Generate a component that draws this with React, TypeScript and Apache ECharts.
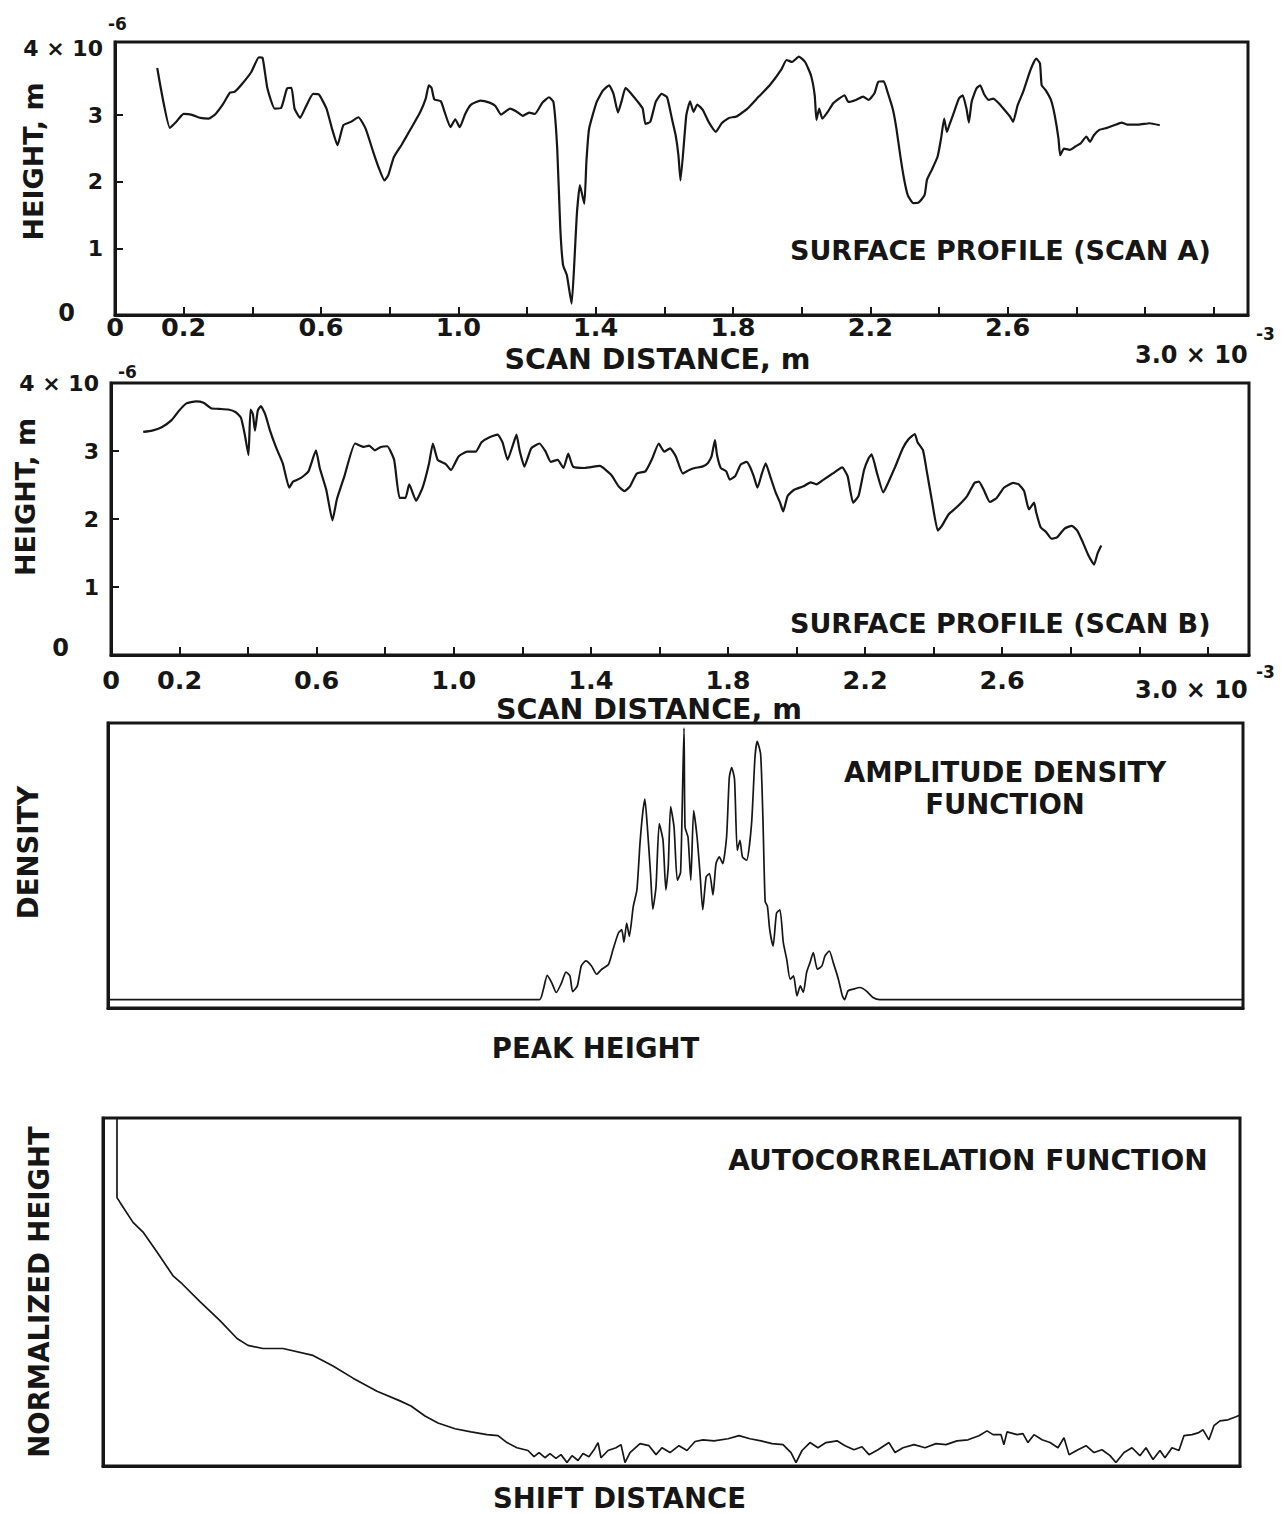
import React, { useEffect, useRef } from 'react';
import * as echarts from 'echarts';

// ---------- Scan A surface profile (x in 10^-3 m, height in 10^-6 m) ----------
const scanAX = [
  0.123, 0.160, 0.178, 0.200, 0.222, 0.249, 0.273, 0.293, 0.315, 0.335, 0.348, 0.370, 0.397, 0.419, 0.430,
  0.444, 0.465, 0.484, 0.501, 0.514, 0.523, 0.539, 0.555, 0.577, 0.594, 0.616, 0.632, 0.648, 0.665, 0.687,
  0.709, 0.730, 0.752, 0.769, 0.785, 0.796, 0.812, 0.834, 0.862, 0.889, 0.905, 0.914, 0.922, 0.930, 0.949,
  0.960, 0.977, 0.991, 1.004, 1.020, 1.037, 1.064, 1.091, 1.108, 1.124, 1.151, 1.168, 1.188, 1.206, 1.223,
  1.245, 1.264, 1.277, 1.288, 1.297, 1.305, 1.316, 1.330, 1.338, 1.345, 1.354, 1.367, 1.373, 1.381, 1.403,
  1.421, 1.439, 1.452, 1.465, 1.476, 1.487, 1.504, 1.523, 1.537, 1.545, 1.559, 1.575, 1.592, 1.608, 1.622,
  1.633, 1.641, 1.647, 1.664, 1.675, 1.685, 1.696, 1.712, 1.729, 1.750, 1.767, 1.788, 1.810, 1.842, 1.875,
  1.907, 1.940, 1.956, 1.972, 1.992, 2.010, 2.027, 2.038, 2.043, 2.051, 2.060, 2.076, 2.092, 2.109, 2.125,
  2.136, 2.158, 2.179, 2.195, 2.212, 2.223, 2.239, 2.250, 2.266, 2.276, 2.287, 2.298, 2.309, 2.325, 2.341,
  2.358, 2.365, 2.379, 2.396, 2.406, 2.415, 2.423, 2.430, 2.444, 2.458, 2.469, 2.480, 2.487, 2.495, 2.509,
  2.520, 2.531, 2.545, 2.558, 2.574, 2.591, 2.607, 2.616, 2.629, 2.645, 2.661, 2.672, 2.683, 2.694, 2.699,
  2.710, 2.726, 2.737, 2.748, 2.753, 2.764, 2.781, 2.797, 2.813, 2.829, 2.840, 2.851, 2.867, 2.889, 2.910,
  2.932, 2.948, 2.981, 3.013, 3.043,
];
const scanAHeight = [
  3.71, 2.81, 2.90, 3.02, 3.01, 2.96, 2.95, 3.02, 3.17, 3.34, 3.35, 3.47, 3.65, 3.87, 3.86,
  3.40, 3.10, 3.11, 3.40, 3.41, 3.10, 2.96, 3.12, 3.32, 3.31, 3.10, 2.80, 2.55, 2.85, 2.90,
  2.97, 2.80, 2.45, 2.20, 2.02, 2.10, 2.37, 2.55, 2.80, 3.05, 3.25, 3.45, 3.41, 3.24, 3.21,
  3.05, 2.82, 2.94, 2.82, 3.02, 3.16, 3.22, 3.19, 3.14, 3.01, 3.10, 3.06, 2.99, 3.04, 3.02,
  3.19, 3.27, 3.20, 2.50, 1.30, 0.75, 0.60, 0.17, 0.80, 1.50, 1.95, 1.67, 2.30, 2.80, 3.20,
  3.37, 3.45, 3.32, 3.04, 3.22, 3.41, 3.32, 3.20, 3.10, 2.87, 2.90, 3.20, 3.32, 3.27, 2.95,
  2.70, 2.40, 2.02, 3.00, 3.21, 3.05, 3.16, 3.08, 2.90, 2.75, 2.88, 2.96, 2.98, 3.10, 3.28,
  3.45, 3.68, 3.83, 3.80, 3.88, 3.80, 3.60, 3.30, 2.93, 3.10, 2.95, 3.05, 3.18, 3.25, 3.30,
  3.20, 3.23, 3.28, 3.23, 3.33, 3.50, 3.51, 3.35, 3.08, 2.80, 2.40, 2.05, 1.80, 1.68, 1.69,
  1.80, 2.03, 2.18, 2.38, 2.65, 2.95, 2.75, 2.85, 3.05, 3.25, 3.30, 3.10, 2.89, 3.20, 3.40,
  3.45, 3.32, 3.23, 3.25, 3.18, 3.08, 2.98, 2.90, 3.15, 3.35, 3.60, 3.75, 3.85, 3.78, 3.45,
  3.38, 3.23, 3.00, 2.65, 2.40, 2.50, 2.48, 2.53, 2.58, 2.68, 2.60, 2.70, 2.78, 2.81, 2.85,
  2.89, 2.86, 2.86, 2.88, 2.85,
];

// ---------- Scan B surface profile ----------
const scanBX = [
  0.094, 0.120, 0.148, 0.176, 0.198, 0.220, 0.248, 0.270, 0.292, 0.314, 0.342, 0.364, 0.379, 0.390, 0.401,
  0.407, 0.414, 0.420, 0.428, 0.437, 0.450, 0.464, 0.481, 0.501, 0.520, 0.531, 0.553, 0.576, 0.598, 0.609,
  0.628, 0.646, 0.659, 0.681, 0.712, 0.737, 0.753, 0.770, 0.787, 0.806, 0.826, 0.842, 0.859, 0.870, 0.890,
  0.909, 0.928, 0.939, 0.953, 0.976, 0.992, 1.014, 1.039, 1.064, 1.081, 1.103, 1.128, 1.142, 1.157, 1.172,
  1.183, 1.192, 1.206, 1.226, 1.250, 1.268, 1.283, 1.303, 1.320, 1.334, 1.348, 1.381, 1.426, 1.459, 1.481,
  1.498, 1.514, 1.534, 1.559, 1.579, 1.598, 1.614, 1.631, 1.648, 1.668, 1.687, 1.703, 1.725, 1.741, 1.752,
  1.762, 1.768, 1.779, 1.795, 1.805, 1.821, 1.837, 1.854, 1.864, 1.875, 1.886, 1.899, 1.910, 1.923, 1.939,
  1.952, 1.961, 1.974, 1.993, 2.020, 2.041, 2.058, 2.079, 2.106, 2.133, 2.149, 2.165, 2.181, 2.197, 2.210,
  2.219, 2.235, 2.253, 2.267, 2.288, 2.310, 2.326, 2.345, 2.353, 2.369, 2.380, 2.396, 2.412, 2.424, 2.444,
  2.471, 2.498, 2.519, 2.532, 2.546, 2.564, 2.584, 2.605, 2.632, 2.648, 2.664, 2.678, 2.693, 2.699, 2.712,
  2.728, 2.744, 2.760, 2.782, 2.803, 2.819, 2.835, 2.851, 2.868, 2.878, 2.889,
];
const scanBHeight = [
  3.28, 3.30, 3.35, 3.45, 3.59, 3.70, 3.73, 3.71, 3.63, 3.62, 3.61, 3.57, 3.49, 3.25, 2.94,
  3.61, 3.54, 3.30, 3.59, 3.66, 3.54, 3.30, 3.06, 2.82, 2.46, 2.55, 2.60, 2.70, 3.01, 2.75,
  2.43, 1.98, 2.29, 2.63, 3.11, 3.06, 3.08, 3.01, 3.06, 3.07, 2.87, 2.31, 2.31, 2.51, 2.27,
  2.46, 2.82, 3.11, 2.87, 2.81, 2.72, 2.92, 2.99, 2.99, 3.13, 3.20, 3.24, 3.13, 2.87, 3.08,
  3.24, 3.01, 2.77, 3.04, 3.11, 2.99, 2.84, 2.87, 2.75, 2.96, 2.77, 2.75, 2.78, 2.65, 2.48,
  2.41, 2.48, 2.67, 2.70, 2.89, 3.11, 2.99, 3.04, 2.92, 2.67, 2.72, 2.75, 2.77, 2.82, 2.92,
  3.16, 2.94, 2.75, 2.70, 2.58, 2.63, 2.80, 2.84, 2.77, 2.63, 2.46, 2.67, 2.82, 2.63, 2.39,
  2.24, 2.11, 2.34, 2.43, 2.48, 2.54, 2.51, 2.58, 2.67, 2.76, 2.63, 2.24, 2.34, 2.72, 2.89,
  2.95, 2.67, 2.39, 2.53, 2.77, 3.04, 3.17, 3.25, 3.13, 3.01, 2.70, 2.24, 1.83, 1.90, 2.07,
  2.19, 2.34, 2.53, 2.55, 2.43, 2.25, 2.31, 2.46, 2.53, 2.51, 2.41, 2.14, 2.24, 2.10, 1.88,
  1.81, 1.71, 1.73, 1.86, 1.90, 1.83, 1.66, 1.47, 1.33, 1.49, 1.61,
];

// ---------- Amplitude density function (normalised peak height, density) ----------
const peakHeight = [
  0, 38.0, 38.36, 38.7, 39.09, 39.5, 39.97, 40.35, 40.7, 40.94, 41.35, 41.7, 42.1, 42.6, 43.05, 43.5,
  44.1, 44.5, 44.97, 45.26, 45.46, 45.7, 45.93, 46.28, 46.6, 46.87, 47.1, 47.3, 47.5, 47.8, 48.0, 48.28,
  48.57, 48.9, 49.15, 49.36, 49.57, 49.87, 50.16, 50.45, 50.75, 50.84, 51.1, 51.35, 51.6, 51.9, 52.16,
  52.4, 52.7, 53.0, 53.3, 53.57, 53.86, 54.16, 54.5, 54.74, 54.95, 55.2, 55.44, 55.68, 55.9, 56.27, 56.7,
  57.0, 57.2, 57.5, 57.7, 57.9, 58.1, 58.3, 58.6, 58.9, 59.2, 59.5, 59.8, 60.1, 60.4, 60.7, 61.0, 61.26,
  61.55, 61.85, 62.14, 62.5, 62.9, 63.17, 63.55, 63.9, 64.35, 64.7, 64.9, 65.2, 65.66, 66.25, 66.8, 67.4,
  68.0, 100,
];
const density = [
  0, 0, 3.8, 8.8, 6.2, 2.6, 6.2, 10.0, 8.6, 2.9, 5.0, 12.2, 14.0, 12.2, 9.2, 11.0,
  12.8, 18.2, 24.1, 25.3, 20.8, 27.7, 22.9, 33.7, 39.7, 56.4, 67.1, 72.5, 63.6, 45.6, 32.7, 40.7,
  63.6, 57.6, 39.7, 48.0, 69.8, 62.4, 43.2, 46.1, 98.2, 62.4, 58.8, 43.2, 68.3, 58.8, 45.6,
  32.5, 44.4, 45.6, 37.9, 49.2, 51.6, 49.2, 58.8, 80.3, 83.9, 79.7, 54.0, 57.6, 51.6, 50.4, 63.6,
  87.5, 93.4, 88.7, 65.9, 35.5, 33.7, 25.3, 19.4, 31.3, 32.5, 20.6, 14.6, 7.4, 8.6, 1.4, 5.0, 2.6,
  9.8, 13.4, 17.0, 11.0, 12.2, 15.8, 17.6, 13.4, 7.4, 1.4, 0, 3.2, 3.8, 4.4, 3.2, 0.8,
  0, 0,
];

// ---------- Autocorrelation function (normalised shift, normalised height) ----------
const shiftDistance = [
  1.23, 1.23, 1.50, 2.64, 3.52, 4.75, 6.16, 6.95, 8.53, 10.29, 11.79, 12.75, 14.07, 15.83, 18.47, 20.23,
  21.99, 24.10, 26.12, 27.09, 28.32, 29.46, 30.96, 32.37, 33.77, 34.74, 35.53, 36.41, 37.38, 37.91, 38.35,
  38.87, 39.31, 39.84, 40.28, 40.81, 41.25, 41.78, 42.22, 42.74, 43.18, 43.54, 43.80, 44.42, 45.12, 45.56,
  45.91, 46.35, 47.23, 48.02, 48.64, 49.16, 49.87, 50.66, 51.36, 52.07, 52.77, 53.74, 54.97, 55.94, 56.90,
  57.87, 58.84, 59.81, 60.51, 60.95, 61.48, 62.18, 62.88, 63.59, 64.56, 65.26, 66.05, 66.75, 67.37, 68.16,
  69.13, 69.66, 70.36, 71.33, 72.30, 73.26, 74.14, 75.11, 76.08, 77.04, 77.75, 78.28, 78.98, 79.24, 79.51,
  80.39, 80.91, 81.35, 81.88, 82.59, 83.29, 83.99, 84.52, 84.96, 85.75, 86.46, 87.16, 87.86, 88.57, 89.09,
  89.80, 90.50, 91.20, 91.73, 92.35, 92.96, 93.40, 94.02, 94.63, 95.07, 95.78, 96.31, 96.75, 97.27, 97.71,
  98.24, 98.94, 99.65, 100,
];
const autocorrelation = [
  100, 76.9, 75.5, 69.7, 66.9, 61.1, 54.2, 51.9, 46.7, 41.2, 36.0, 34.0, 33.1, 33.1, 31.1, 28.0,
  24.5, 20.7, 17.9, 16.4, 13.5, 11.5, 9.8, 8.9, 8.1, 7.8, 5.8, 4.3, 3.5, 1.7, 2.9,
  1.4, 2.6, 1.2, 2.3, 0, 2.0, 0.6, 2.6, 1.7, 3.7, 5.8, 1.4, 3.5, 4.3, 5.2,
  0, 2.9, 5.5, 4.9, 2.3, 4.3, 2.9, 4.9, 3.5, 6.1, 6.6, 6.3, 6.9, 7.8, 6.9,
  6.3, 5.5, 5.2, 2.9, 0, 3.5, 5.8, 4.3, 5.8, 6.3, 4.9, 3.7, 4.6, 2.3, 3.7,
  5.8, 2.9, 4.3, 5.2, 4.3, 5.5, 5.2, 6.3, 6.6, 7.8, 9.2, 8.1, 8.1, 5.2, 8.9,
  8.1, 8.4, 5.8, 8.1, 6.6, 5.8, 4.3, 7.2, 2.3, 3.7, 4.9, 2.9, 3.7, 2.0, 0,
  2.9, 4.3, 2.0, 4.3, 0.9, 3.5, 1.4, 4.3, 3.5, 7.8, 8.1, 8.6, 9.5, 6.6, 10.7,
  12.1, 12.4, 13.3, 13.8,
];

// ---------- Axis tick / label values ----------
const scanTickValues = [0.2, 0.4, 0.6, 0.8, 1.0, 1.2, 1.4, 1.6, 1.8, 2.0, 2.2, 2.4, 2.6, 2.8, 3.0, 3.2];
const scanLabelValues = [0, 0.2, 0.6, 1.0, 1.4, 1.8, 2.2, 2.6];
const heightTickValues = [1, 2, 3];
const heightLabelValues = [0, 1, 2, 3, 4];

const FONT = '"DejaVu Sans", "Liberation Sans", Arial, sans-serif';
const INK = '#161616';

const zip = (xs: number[], ys: number[]) => xs.map((x, i) => [x, ys[i]]);

const boldText = (size: number) => ({
  fontSize: size,
  fontFamily: FONT,
  fontWeight: 'bold' as const,
  color: INK,
});

function scanXAxis(gridIndex: number, max: number, nameGap: number, padRight: number, labelMargin: number) {
  return {
    gridIndex,
    type: 'value',
    min: 0,
    max,
    axisLine: { show: true, onZero: false, lineStyle: { color: INK, width: 3 } },
    axisTick: { show: true, inside: true, length: 8, customValues: scanTickValues, lineStyle: { color: INK, width: 2 } },
    axisLabel: {
      show: true,
      customValues: scanLabelValues,
      formatter: (v: number) => (v === 0 ? '0' : v.toFixed(1)),
      margin: labelMargin,
      lineHeight: 20,
      ...boldText(25.5),
    },
    splitLine: { show: false },
    name: 'SCAN DISTANCE, m',
    nameLocation: 'middle',
    nameGap,
    nameMoveOverlap: false,
    nameTextStyle: { ...boldText(28.5), lineHeight: 22, padding: [0, padRight, 0, 0] },
  };
}

function scanYAxis(gridIndex: number, max: number, nameGap: number, padLeft: number, zeroPad: number[]) {
  return {
    gridIndex,
    type: 'value',
    min: 0,
    max,
    axisLine: { show: true, onZero: false, lineStyle: { color: INK, width: 3 } },
    axisTick: { show: true, inside: true, length: 8, customValues: heightTickValues, lineStyle: { color: INK, width: 2 } },
    axisLabel: {
      show: true,
      customValues: heightLabelValues,
      formatter: (v: number) => (v === 4 ? '4 × 10' : v === 0 ? '{z|0}' : String(v)),
      margin: 12,
      ...boldText(22),
      rich: { z: { ...boldText(24), padding: zeroPad } },
    },
    splitLine: { show: false },
    name: 'HEIGHT, m',
    nameLocation: 'middle',
    nameRotate: 90,
    nameGap,
    nameMoveOverlap: false,
    nameTextStyle: { ...boldText(27), padding: [0, 0, 0, padLeft] },
  };
}

function plainAxis(gridIndex: number, min: number, max: number, name: string, nameGap: number, pad: number[], rotate?: number) {
  return {
    gridIndex,
    type: 'value',
    min,
    max,
    axisLine: { show: true, onZero: false, lineStyle: { color: INK, width: 3 } },
    axisTick: { show: false },
    axisLabel: { show: false },
    splitLine: { show: false },
    name,
    nameLocation: 'middle',
    nameGap,
    nameMoveOverlap: false,
    ...(rotate !== undefined ? { nameRotate: rotate } : {}),
    nameTextStyle: { ...boldText(27.5), lineHeight: 28, padding: pad },
  };
}

function label(text: string, x: number, y: number, size: number, align = 'left') {
  return {
    type: 'text',
    x,
    y,
    silent: true,
    style: {
      text,
      fill: INK,
      fontSize: size,
      fontFamily: FONT,
      fontWeight: 'bold',
      align,
      textAlign: align,
      verticalAlign: 'middle',
      textVerticalAlign: 'middle',
      lineHeight: size + 4,
    },
  };
}

export default function App() {
  const ref = useRef<HTMLDivElement>(null);

  useEffect(() => {
    document.body.style.margin = '0';
    if (!ref.current) return;
    const chart = echarts.init(ref.current, null, { renderer: 'svg' });

    const gridStyle = {
      show: true,
      borderColor: INK,
      borderWidth: 3,
      backgroundColor: 'transparent',
      containLabel: false,
      outerBoundsMode: 'none',
    };

    chart.setOption({
      animation: false,
      backgroundColor: '#ffffff',
      grid: [
        { left: 115, top: 42, width: 1133, height: 273, ...gridStyle },
        { left: 111, top: 383, width: 1138, height: 272, ...gridStyle },
        { left: 108, top: 723, width: 1135, height: 285, ...gridStyle },
        { left: 103, top: 1118, width: 1137, height: 348, ...gridStyle },
      ],
      xAxis: [
        scanXAxis(0, 3.3, 33, 48, 2),
        scanXAxis(1, 3.32, 43, 62, 15),
        plainAxis(2, 0, 100, 'PEAK HEIGHT', 26, [0, 160, 0, 0]),
        plainAxis(3, 0, 100, 'SHIFT DISTANCE', 18, [0, 104, 0, 0]),
      ],
      yAxis: [
        scanYAxis(0, 4.1, 68, 34, [0, 28, 4, 0]),
        scanYAxis(1, 4, 72, 44, [0, 30, 14, 0]),
        plainAxis(2, -3, 100, 'DENSITY', 66, [0, 0, 0, 26], 90),
        plainAxis(3, -1, 100, 'NORMALIZED HEIGHT', 50, [0, 0, 0, 0], 90),
      ],
      series: [
        {
          type: 'line', xAxisIndex: 0, yAxisIndex: 0, data: zip(scanAX, scanAHeight),
          showSymbol: false, lineStyle: { color: INK, width: 2.2 }, smooth: 0.15,
        },
        {
          type: 'line', xAxisIndex: 1, yAxisIndex: 1, data: zip(scanBX, scanBHeight),
          showSymbol: false, lineStyle: { color: INK, width: 2.2 }, smooth: 0.15,
        },
        {
          type: 'line', xAxisIndex: 2, yAxisIndex: 2, data: zip(peakHeight, density),
          showSymbol: false, lineStyle: { color: INK, width: 1.7 }, smooth: 0.2,
        },
        {
          type: 'line', xAxisIndex: 3, yAxisIndex: 3, data: zip(shiftDistance, autocorrelation),
          showSymbol: false, lineStyle: { color: INK, width: 1.7 },
        },
      ],
      graphic: [
        label('-6', 108, 24, 17),
        label('3.0 × 10', 1135, 355, 24),
        label('-3', 1256, 334, 17),
        label('SURFACE PROFILE (SCAN A)', 790, 250, 27),
        label('-6', 118, 372, 17),
        label('3.0 × 10', 1135, 690, 24),
        label('-3', 1256, 672, 17),
        label('SURFACE PROFILE (SCAN B)', 790, 623, 27),
        label('AMPLITUDE DENSITY\nFUNCTION', 1005, 788, 27.5, 'center'),
        label('AUTOCORRELATION FUNCTION', 968, 1160, 28, 'center'),
      ],
    });

    return () => chart.dispose();
  }, []);

  return <div ref={ref} style={{ width: 1281, height: 1513, background: '#fff' }} />;
}
